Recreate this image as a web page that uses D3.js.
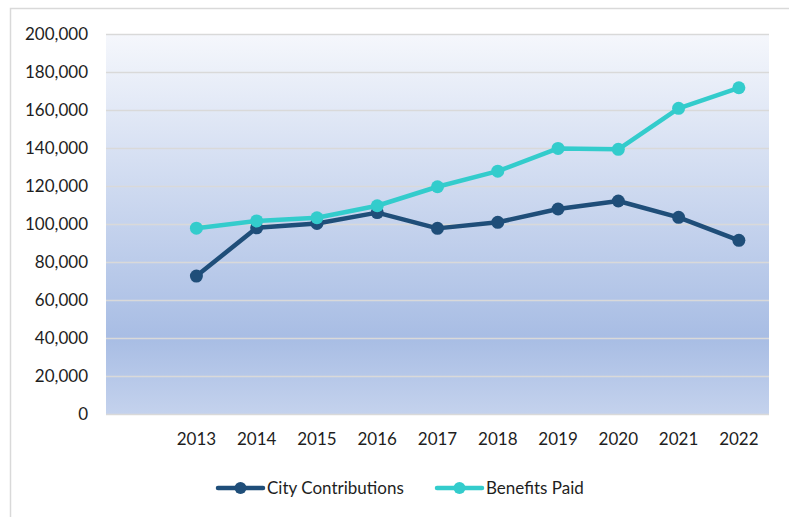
<!DOCTYPE html>
<html>
<head>
<meta charset="utf-8">
<script src="https://cdn.jsdelivr.net/npm/d3@7"></script>
<style>
  body { margin: 0; background: #fff; }
  text { font-family: Lato, "Open Sans", sans-serif; fill: #1e1e1e; }
</style>
</head>
<body>
<script>
// Chart data
var years = ["2013", "2014", "2015", "2016", "2017", "2018", "2019", "2020", "2021", "2022"];
var cityContributions = [72600, 98000, 100300, 106000, 97700, 100900, 107900, 112100, 103500, 91400];
var benefitsPaid = [97800, 101600, 103300, 109600, 119600, 127800, 139800, 139300, 160900, 171700];
var yTicks = [0, 20000, 40000, 60000, 80000, 100000, 120000, 140000, 160000, 180000, 200000];
var seriesNames = ["City Contributions", "Benefits Paid"];
var seriesColors = ["#1f4e79", "#33cccc"];

var svg = d3.select("body").append("svg")
          .attr("width", 789)
          .attr("height", 517);

// outer chart border
svg.append("rect")
    .attr("x", 10.5).attr("y", 8.5)
    .attr("width", 800).attr("height", 520)
    .attr("fill", "#fff")
    .attr("stroke", "#d9d9d9")
    .attr("stroke-width", 1.5);

// plot area edges (window.top is reserved, so prefixed names)
var plotLeft = 106, plotRight = 769, plotTop = 34, plotBottom = 414;

// the first slot of the axis is left empty in the original chart
var x = d3.scaleBand()
    .domain([""].concat(years))
    .range([plotLeft, plotRight])
    .padding(0);

var y = d3.scaleLinear()
    .domain([0, 200000])
    .range([plotBottom, plotTop]);

// plot area gradient
var defs = svg.append("defs");
var grad = defs.append("linearGradient")
    .attr("id", "plotGrad")
    .attr("x1", 0).attr("y1", 0).attr("x2", 0).attr("y2", 1);
grad.append("stop").attr("offset", "0%").attr("stop-color", "#f5f7fc");
grad.append("stop").attr("offset", "80%").attr("stop-color", "#a8bde4");
grad.append("stop").attr("offset", "100%").attr("stop-color", "#c4d2ed");

svg.append("rect")
    .attr("x", plotLeft).attr("y", plotTop)
    .attr("width", plotRight - plotLeft).attr("height", plotBottom - plotTop)
    .attr("fill", "url(#plotGrad)");

// gridlines
svg.append("g")
    .attr("transform", "translate(" + plotLeft + ",0)")
    .call(d3.axisLeft(y).tickValues(yTicks).tickSize(-(plotRight - plotLeft)).tickFormat(""))
    .call(function(g) { g.select(".domain").remove(); })
    .selectAll("line")
      .attr("stroke", "#d9d9d9")
      .attr("stroke-width", 1.5);

// y axis labels
svg.append("g")
    .attr("transform", "translate(" + plotLeft + ",0)")
    .call(d3.axisLeft(y).tickValues(yTicks).tickSize(0).tickPadding(18).tickFormat(d3.format(",")))
    .call(function(g) { g.select(".domain").remove(); })
    .selectAll("text")
      .style("font-family", "Lato, sans-serif")
      .style("font-size", "17px")
      .attr("fill", "#1e1e1e");

// x axis labels
svg.append("g")
    .attr("transform", "translate(0," + plotBottom + ")")
    .call(d3.axisBottom(x).tickSize(0).tickPadding(19))
    .call(function(g) { g.select(".domain").remove(); })
    .selectAll("text")
      .style("font-family", "Lato, sans-serif")
      .style("font-size", "17px")
      .attr("fill", "#1e1e1e");

var series = [cityContributions, benefitsPaid];

var line = d3.line()
    .x(function(d, i) { return x(years[i]) + x.bandwidth() / 2; })
    .y(function(d) { return y(d); });

series.forEach(function(values, s) {
  svg.append("path")
      .datum(values)
      .attr("fill", "none")
      .attr("stroke", seriesColors[s])
      .attr("stroke-width", 4.5)
      .attr("stroke-linejoin", "round")
      .attr("d", line);

  svg.selectAll("circle.s" + s)
      .data(values)
      .enter().append("circle")
        .attr("class", "s" + s)
        .attr("cx", function(d, i) { return x(years[i]) + x.bandwidth() / 2; })
        .attr("cy", function(d) { return y(d); })
        .attr("r", 6.5)
        .attr("fill", seriesColors[s]);
});

// legend
var legendX = [218, 437];
var legend = svg.selectAll("g.legend")
    .data(seriesNames)
    .enter().append("g")
      .attr("class", "legend")
      .attr("transform", function(d, i) { return "translate(" + legendX[i] + ",488)"; });

legend.append("line")
    .attr("x1", 0).attr("x2", 45)
    .attr("stroke", function(d, i) { return seriesColors[i]; })
    .attr("stroke-width", 4.5)
    .attr("stroke-linecap", "round");

legend.append("circle")
    .attr("cx", 22.5)
    .attr("r", 6)
    .attr("fill", function(d, i) { return seriesColors[i]; });

legend.append("text")
    .attr("x", 49)
    .attr("dy", "0.35em")
    .style("font-size", "17px")
    .text(function(d) { return d; });
</script>
</body>
</html>
